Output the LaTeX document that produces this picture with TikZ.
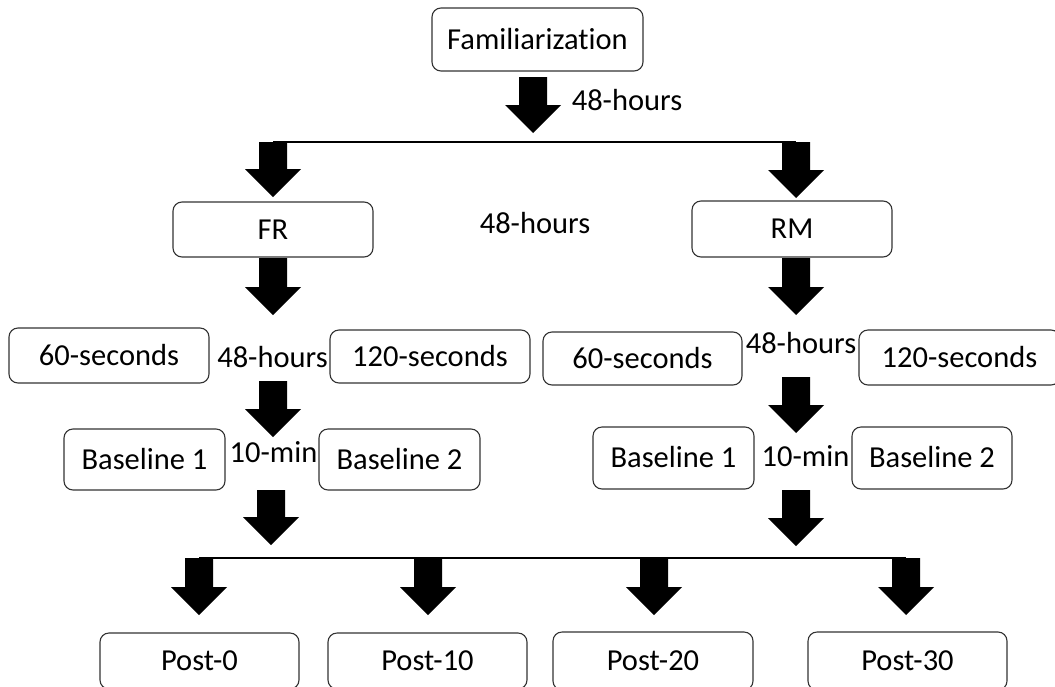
\documentclass[tikz,border=0pt]{standalone}
\usepackage{fontspec}
\setmainfont[Ligatures=NoCommon]{Carlito}
\usetikzlibrary{calc}
\newcommand\blockarr[2]{%
  \fill[black] let \p1=(#1), \p2=(#2) in
    (\x2-14pt,\y1) -- (\x2+14pt,\y1) -- (\x2+14pt,\y2+28pt) -- (\x2+28pt,\y2+28pt)
    -- (\x2,\y2) -- (\x2-28pt,\y2+28pt) -- (\x2-14pt,\y2+28pt) -- cycle;}
\begin{document}
\begin{tikzpicture}[x=1pt,y=-1pt,
  box/.style={draw=black!80, line width=1.1pt, rounded corners=9pt, fill=white,
    inner sep=0pt, text height=19.6pt, text depth=0pt, font=\fontsize{30.5}{36}\selectfont},
  lbl/.style={inner sep=0pt, text height=19.6pt, text depth=0pt, font=\fontsize{30.5}{36}\selectfont},
  link/.style={draw=black, line width=1.4pt}]
\useasboundingbox (0,0) rectangle (1055,686);
\clip (0,0) rectangle (1055,686);
% boxes
\node[box, minimum width=211pt, minimum height=63pt] (fam) at (537.5,39.5) {Familiarization};
\node[box, minimum width=200pt, minimum height=55pt] (fr) at (273,229.5) {FR};
\node[box, minimum width=200pt, minimum height=56pt] (rm) at (792,229) {RM};
\node[box, minimum width=200pt, minimum height=55pt] (s60l) at (109,355.5) {60-seconds};
\node[box, minimum width=200pt, minimum height=53pt] (s120l) at (430,356.5) {120-seconds};
\node[box, minimum width=199pt, minimum height=53pt] (s60r) at (642.5,358.5) {60-seconds};
\node[box, minimum width=201pt, minimum height=55pt] (s120r) at (959.5,357.5) {120-seconds};
\node[box, minimum width=161pt, minimum height=61pt] (b1l) at (144.5,459.5) {Baseline 1};
\node[box, minimum width=161pt, minimum height=61pt] (b2l) at (399.5,459.5) {Baseline 2};
\node[box, minimum width=161pt, minimum height=62pt] (b1r) at (673.5,458) {Baseline 1};
\node[box, minimum width=160pt, minimum height=62pt] (b2r) at (932,458) {Baseline 2};
\node[box, minimum width=199pt, minimum height=56pt] (p0) at (199.5,661) {Post-0};
\node[box, minimum width=199pt, minimum height=56pt] (p10) at (427.5,661) {Post-10};
\node[box, minimum width=200pt, minimum height=58pt] (p20) at (653,661) {Post-20};
\node[box, minimum width=199pt, minimum height=58pt] (p30) at (907.5,661) {Post-30};
% labels
\node[lbl] (h0) at (627,100.5) {48-hours};
\node[lbl] (h1) at (535,223.5) {48-hours};
\node[lbl] (h2) at (272.5,358) {48-hours};
\node[lbl] (h3) at (801,344) {48-hours};
\node[lbl] (m1) at (273.5,452.5) {10-min};
\node[lbl] (m2) at (805.5,456.5) {10-min};
% junction coordinates
\coordinate (a0t) at (533,77);   \coordinate (a0b) at (533,133);
\coordinate (jl) at (273,142);   \coordinate (jr) at (796,142);
\coordinate (a1b) at (273,197);  \coordinate (a2b) at (796,198);
\coordinate (a3t) at (273,258);  \coordinate (a3b) at (273,315);
\coordinate (a4t) at (796,258);  \coordinate (a4b) at (796,315);
\coordinate (a5t) at (273,381);  \coordinate (a5b) at (273,437);
\coordinate (a6t) at (796,377);  \coordinate (a6b) at (796,433);
\coordinate (a7t) at (271,490);  \coordinate (a7b) at (271,545);
\coordinate (a8t) at (796,490);  \coordinate (a8b) at (796,546);
\coordinate (q0) at (199,558);   \coordinate (q0b) at (199,615);
\coordinate (q1) at (428,558);   \coordinate (q1b) at (428,615);
\coordinate (q2) at (654,558);   \coordinate (q2b) at (654,615);
\coordinate (q3) at (906,558);   \coordinate (q3b) at (906,615);
% lines
\draw[link] (jl) -- (jr);
\draw[link] (q0) -- (q3);
% block arrows
\blockarr{a0t}{a0b}
\blockarr{jl}{a1b}
\blockarr{jr}{a2b}
\blockarr{a3t}{a3b}
\blockarr{a4t}{a4b}
\blockarr{a5t}{a5b}
\blockarr{a6t}{a6b}
\blockarr{a7t}{a7b}
\blockarr{a8t}{a8b}
\blockarr{q0}{q0b}
\blockarr{q1}{q1b}
\blockarr{q2}{q2b}
\blockarr{q3}{q3b}
\end{tikzpicture}
\end{document}
